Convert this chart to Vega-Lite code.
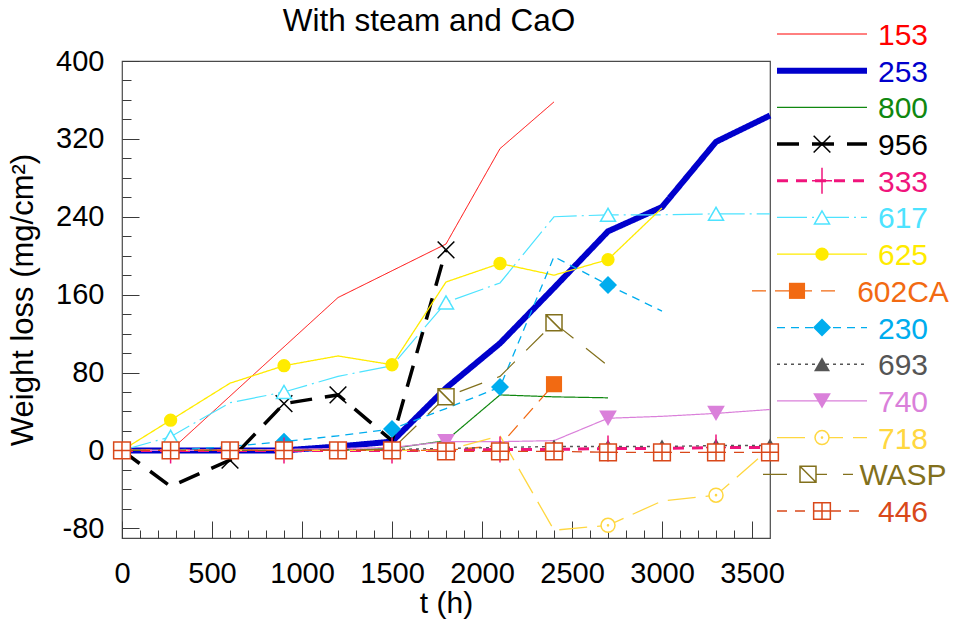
{
  "$schema": "https://vega.github.io/schema/vega-lite/v6.json",
  "width": 648,
  "height": 477,
  "autosize": {"type": "none"},
  "padding": {"left": 122, "top": 61, "right": 187, "bottom": 83},
  "background": "white",
  "title": {
    "text": "With steam and CaO",
    "font": "Liberation Sans",
    "fontSize": 31.5,
    "fontWeight": "normal",
    "color": "black",
    "anchor": "middle",
    "frame": "group",
    "dx": -17,
    "offset": -16
  },
  "config": {
    "view": {"stroke": "#4a4a4a", "strokeWidth": 1.2},
    "font": "Liberation Sans",
    "axis": {
      "labelFont": "Liberation Sans",
      "titleFont": "Liberation Sans",
      "labelColor": "black",
      "titleColor": "black",
      "titleFontWeight": "normal",
      "domain": false,
      "ticks": false
    }
  },
  "datasets": {
    "curves": [
      {"s": "153", "t": 0, "w": 0}, {"s": "153", "t": 270, "w": 0}, {"s": "153", "t": 1200, "w": 157},
      {"s": "153", "t": 1800, "w": 212}, {"s": "153", "t": 2100, "w": 310}, {"s": "153", "t": 2400, "w": 358},

      {"s": "253", "t": 0, "w": 0}, {"s": "253", "t": 270, "w": 0}, {"s": "253", "t": 600, "w": 0},
      {"s": "253", "t": 900, "w": 0}, {"s": "253", "t": 1200, "w": 4}, {"s": "253", "t": 1500, "w": 9},
      {"s": "253", "t": 1800, "w": 64}, {"s": "253", "t": 2100, "w": 110}, {"s": "253", "t": 2400, "w": 167},
      {"s": "253", "t": 2700, "w": 225}, {"s": "253", "t": 3000, "w": 250}, {"s": "253", "t": 3300, "w": 317},
      {"s": "253", "t": 3600, "w": 344},

      {"s": "800", "t": 0, "w": 0}, {"s": "800", "t": 270, "w": 0}, {"s": "800", "t": 600, "w": 0},
      {"s": "800", "t": 900, "w": 0}, {"s": "800", "t": 1200, "w": 0}, {"s": "800", "t": 1500, "w": 2},
      {"s": "800", "t": 1800, "w": 10}, {"s": "800", "t": 2100, "w": 57}, {"s": "800", "t": 2400, "w": 55},
      {"s": "800", "t": 2700, "w": 54},

      {"s": "956", "t": 0, "w": 0}, {"s": "956", "t": 270, "w": -37}, {"s": "956", "t": 600, "w": -10},
      {"s": "956", "t": 900, "w": 48}, {"s": "956", "t": 1200, "w": 57}, {"s": "956", "t": 1500, "w": 10},
      {"s": "956", "t": 1800, "w": 206},

      {"s": "333", "t": 0, "w": 0}, {"s": "333", "t": 270, "w": 0}, {"s": "333", "t": 600, "w": 0},
      {"s": "333", "t": 900, "w": 0}, {"s": "333", "t": 1200, "w": 0}, {"s": "333", "t": 1500, "w": 0},
      {"s": "333", "t": 1800, "w": 0}, {"s": "333", "t": 2100, "w": 1}, {"s": "333", "t": 2400, "w": 1},
      {"s": "333", "t": 2700, "w": 2}, {"s": "333", "t": 3000, "w": 2}, {"s": "333", "t": 3300, "w": 3},
      {"s": "333", "t": 3600, "w": 3},

      {"s": "617", "t": 0, "w": 0}, {"s": "617", "t": 270, "w": 14}, {"s": "617", "t": 600, "w": 49},
      {"s": "617", "t": 900, "w": 60}, {"s": "617", "t": 1200, "w": 76}, {"s": "617", "t": 1500, "w": 87},
      {"s": "617", "t": 1800, "w": 152}, {"s": "617", "t": 2100, "w": 172}, {"s": "617", "t": 2400, "w": 240},
      {"s": "617", "t": 2700, "w": 242}, {"s": "617", "t": 3000, "w": 242}, {"s": "617", "t": 3300, "w": 243},
      {"s": "617", "t": 3600, "w": 243},

      {"s": "625", "t": 0, "w": 0}, {"s": "625", "t": 270, "w": 31}, {"s": "625", "t": 600, "w": 69},
      {"s": "625", "t": 900, "w": 87}, {"s": "625", "t": 1200, "w": 97}, {"s": "625", "t": 1500, "w": 88},
      {"s": "625", "t": 1800, "w": 173}, {"s": "625", "t": 2100, "w": 192}, {"s": "625", "t": 2400, "w": 180},
      {"s": "625", "t": 2700, "w": 196}, {"s": "625", "t": 3000, "w": 249},

      {"s": "602CA", "t": 0, "w": 0}, {"s": "602CA", "t": 270, "w": 0}, {"s": "602CA", "t": 600, "w": 0},
      {"s": "602CA", "t": 900, "w": 0}, {"s": "602CA", "t": 1200, "w": 0}, {"s": "602CA", "t": 1500, "w": 0},
      {"s": "602CA", "t": 1800, "w": 0}, {"s": "602CA", "t": 2100, "w": 5}, {"s": "602CA", "t": 2400, "w": 68},

      {"s": "230", "t": 0, "w": 0}, {"s": "230", "t": 270, "w": 0}, {"s": "230", "t": 600, "w": 4},
      {"s": "230", "t": 900, "w": 9}, {"s": "230", "t": 1200, "w": 15}, {"s": "230", "t": 1500, "w": 22},
      {"s": "230", "t": 1800, "w": 43}, {"s": "230", "t": 2100, "w": 65}, {"s": "230", "t": 2400, "w": 199},
      {"s": "230", "t": 2700, "w": 170}, {"s": "230", "t": 3000, "w": 143},

      {"s": "693", "t": 0, "w": 0}, {"s": "693", "t": 270, "w": 0}, {"s": "693", "t": 600, "w": 0},
      {"s": "693", "t": 900, "w": 1}, {"s": "693", "t": 1200, "w": 1}, {"s": "693", "t": 1500, "w": 1},
      {"s": "693", "t": 1800, "w": 2}, {"s": "693", "t": 2100, "w": 3}, {"s": "693", "t": 2400, "w": 4},
      {"s": "693", "t": 2700, "w": 4}, {"s": "693", "t": 3000, "w": 4}, {"s": "693", "t": 3300, "w": 5},
      {"s": "693", "t": 3600, "w": 5},

      {"s": "740", "t": 0, "w": 0}, {"s": "740", "t": 270, "w": 0}, {"s": "740", "t": 600, "w": 0},
      {"s": "740", "t": 900, "w": 1}, {"s": "740", "t": 1200, "w": 2}, {"s": "740", "t": 1500, "w": 3},
      {"s": "740", "t": 1800, "w": 9}, {"s": "740", "t": 2100, "w": 9}, {"s": "740", "t": 2400, "w": 10},
      {"s": "740", "t": 2700, "w": 33}, {"s": "740", "t": 3000, "w": 35}, {"s": "740", "t": 3300, "w": 38},
      {"s": "740", "t": 3600, "w": 42},

      {"s": "718", "t": 0, "w": 0}, {"s": "718", "t": 270, "w": 0}, {"s": "718", "t": 600, "w": 0},
      {"s": "718", "t": 900, "w": 0}, {"s": "718", "t": 1200, "w": 0}, {"s": "718", "t": 1500, "w": 0},
      {"s": "718", "t": 1800, "w": 0}, {"s": "718", "t": 2100, "w": 15}, {"s": "718", "t": 2400, "w": -82},
      {"s": "718", "t": 2700, "w": -77}, {"s": "718", "t": 3000, "w": -52}, {"s": "718", "t": 3300, "w": -46},
      {"s": "718", "t": 3600, "w": 2},

      {"s": "WASP", "t": 0, "w": 0}, {"s": "WASP", "t": 270, "w": 0}, {"s": "WASP", "t": 600, "w": 0},
      {"s": "WASP", "t": 900, "w": 0}, {"s": "WASP", "t": 1200, "w": 0}, {"s": "WASP", "t": 1500, "w": 1},
      {"s": "WASP", "t": 1800, "w": 55}, {"s": "WASP", "t": 2100, "w": 76}, {"s": "WASP", "t": 2400, "w": 131},
      {"s": "WASP", "t": 2700, "w": 87},

      {"s": "446", "t": 0, "w": 0}, {"s": "446", "t": 270, "w": 0}, {"s": "446", "t": 600, "w": 0},
      {"s": "446", "t": 900, "w": 0}, {"s": "446", "t": 1200, "w": 0}, {"s": "446", "t": 1500, "w": 0},
      {"s": "446", "t": 1800, "w": -1}, {"s": "446", "t": 2100, "w": -1}, {"s": "446", "t": 2400, "w": -1},
      {"s": "446", "t": 2700, "w": -2}, {"s": "446", "t": 3000, "w": -2}, {"s": "446", "t": 3300, "w": -2},
      {"s": "446", "t": 3600, "w": -2}
    ],
    "marks": [
      {"s": "956", "t": 600, "w": -10}, {"s": "956", "t": 900, "w": 48}, {"s": "956", "t": 1200, "w": 57},
      {"s": "956", "t": 1800, "w": 206},
      {"s": "333", "t": 270, "w": 0}, {"s": "333", "t": 900, "w": 0}, {"s": "333", "t": 1500, "w": 0},
      {"s": "333", "t": 2100, "w": 1}, {"s": "333", "t": 2700, "w": 2}, {"s": "333", "t": 3300, "w": 3},
      {"s": "617", "t": 270, "w": 14}, {"s": "617", "t": 900, "w": 60}, {"s": "617", "t": 1800, "w": 152},
      {"s": "617", "t": 2700, "w": 242}, {"s": "617", "t": 3300, "w": 243},
      {"s": "625", "t": 270, "w": 31}, {"s": "625", "t": 900, "w": 87}, {"s": "625", "t": 1500, "w": 88},
      {"s": "625", "t": 2100, "w": 192}, {"s": "625", "t": 2700, "w": 196},
      {"s": "602CA", "t": 2400, "w": 68},
      {"s": "230", "t": 900, "w": 9}, {"s": "230", "t": 1500, "w": 22}, {"s": "230", "t": 2100, "w": 65},
      {"s": "230", "t": 2700, "w": 170},
      {"s": "693", "t": 2100, "w": 3}, {"s": "693", "t": 2400, "w": 4}, {"s": "693", "t": 2700, "w": 4},
      {"s": "693", "t": 3000, "w": 4}, {"s": "693", "t": 3300, "w": 5}, {"s": "693", "t": 3600, "w": 5},
      {"s": "740", "t": 1800, "w": 9}, {"s": "740", "t": 2700, "w": 33}, {"s": "740", "t": 3300, "w": 38},
      {"s": "718", "t": 2700, "w": -77}, {"s": "718", "t": 3300, "w": -46},
      {"s": "WASP", "t": 1800, "w": 55}, {"s": "WASP", "t": 2400, "w": 131},
      {"s": "446", "t": 0, "w": 0}, {"s": "446", "t": 270, "w": 0}, {"s": "446", "t": 600, "w": 0},
      {"s": "446", "t": 900, "w": 0}, {"s": "446", "t": 1200, "w": 0}, {"s": "446", "t": 1500, "w": 0},
      {"s": "446", "t": 1800, "w": -1}, {"s": "446", "t": 2100, "w": -1}, {"s": "446", "t": 2400, "w": -1},
      {"s": "446", "t": 2700, "w": -2}, {"s": "446", "t": 3000, "w": -2}, {"s": "446", "t": 3300, "w": -2},
      {"s": "446", "t": 3600, "w": -2}
    ],
    "keys": [
      {"s": "153"}, {"s": "253"}, {"s": "800"}, {"s": "956"}, {"s": "333"}, {"s": "617"}, {"s": "625"},
      {"s": "602CA"}, {"s": "230"}, {"s": "693"}, {"s": "740"}, {"s": "718"}, {"s": "WASP"}, {"s": "446"}
    ]
  },
  "layer": [
    {
      "encoding": {
        "x": {
          "field": "t", "type": "quantitative",
          "scale": {"domain": [0, 3600], "nice": false, "zero": false},
          "axis": {
            "orient": "bottom",
            "values": [0, 100, 200, 300, 400, 500, 600, 700, 800, 900, 1000, 1100, 1200, 1300, 1400, 1500, 1600, 1700, 1800, 1900, 2000, 2100, 2200, 2300, 2400, 2500, 2600, 2700, 2800, 2900, 3000, 3100, 3200, 3300, 3400, 3500],
            "labelExpr": "datum.value % 500 === 0 ? '' + datum.value : ''",
            "labelFontSize": 29,
            "labelPadding": 21,
            "labelFlush": false,
            "labelOverlap": false,
            "grid": true,
            "gridColor": "#3a3a3a",
            "gridWidth": 1,
            "gridDash": {"condition": {"test": "datum.value % 500 === 0", "value": [0, 460, 17, 0]}, "value": [0, 469, 8, 0]},
            "title": "t (h)",
            "titleFontSize": 30,
            "titlePadding": 0
          }
        },
        "y": {
          "field": "w", "type": "quantitative",
          "scale": {"domain": [-90, 400], "nice": false, "zero": false},
          "axis": {
            "orient": "left",
            "values": [-80, -60, -40, -20, 0, 20, 40, 60, 80, 100, 120, 140, 160, 180, 200, 220, 240, 260, 280, 300, 320, 340, 360, 380, 400],
            "labelExpr": "datum.value % 80 === 0 ? '' + datum.value : ''",
            "labelFontSize": 29,
            "labelPadding": 18,
            "labelFlush": false,
            "labelOverlap": false,
            "grid": true,
            "gridColor": "#3a3a3a",
            "gridWidth": 1,
            "gridDash": {"condition": {"test": "datum.value % 80 === 0", "value": [17, 1000]}, "value": [9, 1000]},
            "title": "Weight loss (mg/cm²)",
            "titleFontSize": 31,
            "titlePadding": 16
          }
        },
        "color": {
          "field": "s", "type": "nominal", "legend": null,
          "scale": {
            "domain": ["153", "253", "800", "956", "333", "617", "625", "602CA", "230", "693", "740", "718", "WASP", "446"],
            "range": ["#ff0000", "#0000cc", "#108810", "#000000", "#f0147c", "#4de3ff", "#ffeb00", "#f26a12", "#00adee", "#555555", "#da80da", "#ffd740", "#82701c", "#d9481a"]
          }
        }
      },
      "layer": [
        {
          "data": {"name": "curves"},
          "mark": {"type": "line"},
          "encoding": {
            "strokeDash": {
              "field": "s", "type": "nominal", "legend": null,
              "scale": {
                "domain": ["153", "253", "800", "956", "333", "617", "625", "602CA", "230", "693", "740", "718", "WASP", "446"],
                "range": [[1, 0], [1, 0], [1, 0], [22, 13], [11, 8], [30, 5, 2, 5], [1, 0], [14, 9], [8, 6], [3, 4], [1, 0], [28, 10], [24, 16], [10, 8]]
              }
            },
            "strokeWidth": {
              "field": "s", "type": "ordinal", "legend": null,
              "scale": {
                "type": "ordinal",
                "domain": ["153", "253", "800", "956", "333", "617", "625", "602CA", "230", "693", "740", "718", "WASP", "446"],
                "range": [1, 6, 1.2, 3.5, 3, 1.2, 1.3, 1.3, 1.3, 1.4, 1.2, 1.3, 1.2, 1.3]
              }
            }
          }
        },
        {
          "data": {"name": "marks"},
          "transform": [{"filter": {"field": "s", "oneOf": ["625", "602CA", "230", "693", "740"]}}],
          "mark": {"type": "point", "filled": true, "opacity": 1},
          "encoding": {
            "shape": {
              "field": "s", "type": "nominal", "legend": null,
              "scale": {
                "domain": ["956", "333", "617", "625", "602CA", "230", "693", "740", "718", "WASP", "446"],
                "range": [
                  "M-1,-1L1,1M-1,1L1,-1",
                  "M0,-1L0,1M-0.77,0L0.77,0",
                  "triangle-up",
                  "circle",
                  "square",
                  "diamond",
                  "triangle-up",
                  "triangle-down",
                  "M1,0A1,1,0,1,1,-1,0A1,1,0,1,1,1,0ZM0.08,0A0.08,0.08,0,1,1,-0.08,0A0.08,0.08,0,1,1,0.08,0Z",
                  "M-1,-1L1,-1L1,1L-1,1ZM-1,-1L1,1",
                  "M-1,-1L1,-1L1,1L-1,1ZM0,-1L0,1M-1,0L1,0"
                ]
              }
            },
            "size": {
              "field": "s", "type": "ordinal", "legend": null,
              "scale": {
                "type": "ordinal",
                "domain": ["956", "333", "617", "625", "602CA", "230", "693", "740", "718", "WASP", "446"],
                "range": [279, 676, 225, 177, 260, 324, 256, 313, 196, 256, 279]
              }
            }
          }
        },
        {
          "data": {"name": "marks"},
          "transform": [{"filter": {"field": "s", "oneOf": ["956", "333", "617", "718", "WASP", "446"]}}],
          "mark": {"type": "point", "filled": false, "fill": "white", "strokeWidth": 1.5, "opacity": 1},
          "encoding": {
            "shape": {
              "field": "s", "type": "nominal", "legend": null,
              "scale": {
                "domain": ["956", "333", "617", "625", "602CA", "230", "693", "740", "718", "WASP", "446"],
                "range": [
                  "M-1,-1L1,1M-1,1L1,-1",
                  "M0,-1L0,1M-0.77,0L0.77,0",
                  "triangle-up",
                  "circle",
                  "square",
                  "diamond",
                  "triangle-up",
                  "triangle-down",
                  "M1,0A1,1,0,1,1,-1,0A1,1,0,1,1,1,0ZM0.08,0A0.08,0.08,0,1,1,-0.08,0A0.08,0.08,0,1,1,0.08,0Z",
                  "M-1,-1L1,-1L1,1L-1,1ZM-1,-1L1,1",
                  "M-1,-1L1,-1L1,1L-1,1ZM0,-1L0,1M-1,0L1,0"
                ]
              }
            },
            "size": {
              "field": "s", "type": "ordinal", "legend": null,
              "scale": {
                "type": "ordinal",
                "domain": ["956", "333", "617", "625", "602CA", "230", "693", "740", "718", "WASP", "446"],
                "range": [279, 676, 225, 177, 260, 324, 256, 313, 196, 256, 279]
              }
            }
          }
        }
      ]
    },
    {
      "data": {"name": "keys"},
      "layer": [
        {
          "mark": {
            "type": "rule",
            "xOffset": {"expr": "datum.s === '602CA' ? -25 : datum.s === 'WASP' ? -14 : 0"},
            "x2Offset": {"expr": "datum.s === '602CA' ? -25 : datum.s === 'WASP' ? -14 : 0"}
          },
          "encoding": {
            "x": {"datum": 0, "type": "quantitative", "scale": {"domain": [0, 1.4], "range": [655, 781]}, "axis": null},
            "x2": {"datum": 1},
            "y": {
              "field": "s", "type": "nominal", "axis": null,
              "scale": {
                "type": "point", "padding": 0, "range": [-27, 450],
                "domain": ["153", "253", "800", "956", "333", "617", "625", "602CA", "230", "693", "740", "718", "WASP", "446"]
              }
            },
            "color": {"field": "s", "type": "nominal", "legend": null},
            "strokeDash": {"field": "s", "type": "nominal", "legend": null},
            "strokeWidth": {
              "field": "s", "type": "ordinal", "legend": null,
              "scale": {
                "type": "ordinal",
                "domain": ["153", "253", "800", "956", "333", "617", "625", "602CA", "230", "693", "740", "718", "WASP", "446"],
                "range": [1, 6, 1.2, 3.5, 3, 1.2, 1.3, 1.3, 1.3, 1.4, 1.2, 1.3, 1.2, 1.3]
              }
            }
          }
        },
        {
          "transform": [{"filter": {"field": "s", "oneOf": ["625", "602CA", "230", "693", "740"]}}],
          "mark": {"type": "point", "filled": true, "opacity": 1, "xOffset": {"expr": "datum.s === '602CA' ? -25 : 0"}},
          "encoding": {
            "x": {"datum": 0.5, "type": "quantitative", "axis": null},
            "y": {"field": "s", "type": "nominal", "axis": null},
            "color": {"field": "s", "type": "nominal", "legend": null},
            "shape": {
              "field": "s", "type": "nominal", "legend": null,
              "scale": {
                "domain": ["956", "333", "617", "625", "602CA", "230", "693", "740", "718", "WASP", "446"],
                "range": [
                  "M-1,-1L1,1M-1,1L1,-1",
                  "M0,-1L0,1M-0.77,0L0.77,0",
                  "triangle-up",
                  "circle",
                  "square",
                  "diamond",
                  "triangle-up",
                  "triangle-down",
                  "M1,0A1,1,0,1,1,-1,0A1,1,0,1,1,1,0ZM0.08,0A0.08,0.08,0,1,1,-0.08,0A0.08,0.08,0,1,1,0.08,0Z",
                  "M-1,-1L1,-1L1,1L-1,1ZM-1,-1L1,1",
                  "M-1,-1L1,-1L1,1L-1,1ZM0,-1L0,1M-1,0L1,0"
                ]
              }
            },
            "size": {
              "field": "s", "type": "ordinal", "legend": null,
              "scale": {
                "type": "ordinal",
                "domain": ["956", "333", "617", "625", "602CA", "230", "693", "740", "718", "WASP", "446"],
                "range": [279, 676, 225, 177, 260, 324, 256, 313, 196, 256, 279]
              }
            }
          }
        },
        {
          "transform": [{"filter": {"field": "s", "oneOf": ["956", "333", "617", "718", "WASP", "446"]}}],
          "mark": {"type": "point", "filled": false, "fill": "white", "strokeWidth": 1.5, "opacity": 1, "xOffset": {"expr": "datum.s === 'WASP' ? -14 : 0"}},
          "encoding": {
            "x": {"datum": 0.5, "type": "quantitative", "axis": null},
            "y": {"field": "s", "type": "nominal", "axis": null},
            "color": {"field": "s", "type": "nominal", "legend": null},
            "shape": {
              "field": "s", "type": "nominal", "legend": null,
              "scale": {
                "domain": ["956", "333", "617", "625", "602CA", "230", "693", "740", "718", "WASP", "446"],
                "range": [
                  "M-1,-1L1,1M-1,1L1,-1",
                  "M0,-1L0,1M-0.77,0L0.77,0",
                  "triangle-up",
                  "circle",
                  "square",
                  "diamond",
                  "triangle-up",
                  "triangle-down",
                  "M1,0A1,1,0,1,1,-1,0A1,1,0,1,1,1,0ZM0.08,0A0.08,0.08,0,1,1,-0.08,0A0.08,0.08,0,1,1,0.08,0Z",
                  "M-1,-1L1,-1L1,1L-1,1ZM-1,-1L1,1",
                  "M-1,-1L1,-1L1,1L-1,1ZM0,-1L0,1M-1,0L1,0"
                ]
              }
            },
            "size": {
              "field": "s", "type": "ordinal", "legend": null,
              "scale": {
                "type": "ordinal",
                "domain": ["956", "333", "617", "625", "602CA", "230", "693", "740", "718", "WASP", "446"],
                "range": [279, 676, 225, 177, 260, 324, 256, 313, 196, 256, 279]
              }
            }
          }
        },
        {
          "mark": {"type": "text", "font": "Liberation Sans", "fontSize": 30, "align": "center", "baseline": "middle", "dy": 2},
          "encoding": {
            "x": {"datum": 1.4, "type": "quantitative", "axis": null},
            "y": {"field": "s", "type": "nominal", "axis": null},
            "text": {"field": "s"},
            "color": {"field": "s", "type": "nominal", "legend": null}
          }
        }
      ]
    }
  ],
  "resolve": {"scale": {"x": "independent", "y": "independent"}}
}
